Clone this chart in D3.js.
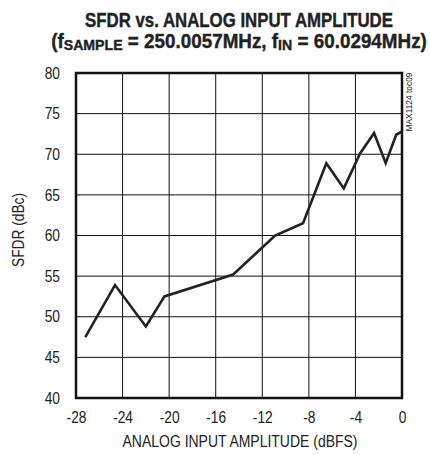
<!DOCTYPE html>
<html>
<head>
<meta charset="utf-8">
<script src="https://cdn.jsdelivr.net/npm/d3@7"></script>
<style>
  body { margin: 0; background: #fff; }
  text { font-family: "Liberation Sans", Arial, sans-serif; fill: #222; }
</style>
</head>
<body>
<div id="chart"></div>
<script>
// data
const amplitude = [-27.2, -24.65, -22.0, -20.4, -14.5, -10.9, -8.5, -6.5, -5.0, -3.6, -2.4, -1.4, -0.5, 0];
const sfdr = [47.5, 53.9, 48.8, 52.5, 55.2, 60.0, 61.5, 68.9, 65.8, 70.1, 72.6, 68.9, 72.4, 72.8];
const xTicks = [-28, -24, -20, -16, -12, -8, -4, 0];
const yTicks = [40, 45, 50, 55, 60, 65, 70, 75, 80];

const margin = { top: 73, right: 28, bottom: 57, left: 76 };
const width = 430 - margin.left - margin.right;
const height = 455 - margin.top - margin.bottom;

const svg = d3.select('#chart')
  .append('svg')
  .attr('width', 430)
  .attr('height', 455);

// no condensed font installed: draw at (0,0) and squeeze with a transform
// to a given width (or by a factor when target < 1)
function placeText(parent, x, y, rotate, target, size, str, bold) {
  const t = parent.append('text')
    .attr('text-anchor', 'middle')
    .style('font-size', size + 'px')
    .style('font-weight', bold ? 'bold' : null)
    .text(str);
  const len = t.node().getComputedTextLength();
  const k = target < 1 ? target : target / len;
  t.attr('transform', 'translate(' + x + ',' + y + ')' + (rotate ? ' rotate(' + rotate + ')' : '') + ' scale(' + k + ',1)');
  return t;
}

// title
placeText(svg, 239, 27, 0, 308, 20, 'SFDR vs. ANALOG INPUT AMPLITUDE', true)
  .style('stroke', '#222').style('stroke-width', 0.4);

const t2 = svg.append('text')
  .attr('text-anchor', 'middle')
  .style('font-weight', 'bold')
  .style('font-size', '20px')
  .style('stroke', '#222').style('stroke-width', 0.4);
t2.append('tspan').text('(f');
t2.append('tspan').attr('dy', 2).style('font-size', '15px').text('SAMPLE');
t2.append('tspan').attr('dy', -2).text(' = 250.0057MHz, f');
t2.append('tspan').attr('dy', 2).style('font-size', '15px').text('IN');
t2.append('tspan').attr('dy', -2).text(' = 60.0294MHz)');
const k2 = 376 / t2.node().getComputedTextLength();
t2.attr('transform', 'translate(239,48) scale(' + k2 + ',1)');

const g = svg.append('g')
  .attr('transform', 'translate(' + margin.left + ',' + margin.top + ')');

const xScale = d3.scaleLinear().domain([-28, 0]).range([0, width]);
const yScale = d3.scaleLinear().domain([40, 80]).range([height, 0]);

// grid
g.selectAll('.vgrid').data(xTicks).enter().append('line')
  .attr('x1', d => xScale(d)).attr('x2', d => xScale(d))
  .attr('y1', 0).attr('y2', height)
  .attr('stroke', '#111').attr('stroke-width', 1);
g.selectAll('.hgrid').data(yTicks).enter().append('line')
  .attr('y1', d => yScale(d)).attr('y2', d => yScale(d))
  .attr('x1', 0).attr('x2', width)
  .attr('stroke', '#111').attr('stroke-width', 1);

// axes (labels only)
const sq = 0.86;
const xAxis = d3.axisBottom(xScale).tickValues(xTicks).tickSize(0).tickPadding(14)
  .tickFormat(d => d < 0 ? '-' + Math.abs(d) : d);
const xAxisGroup = g.append('g').attr('transform', 'translate(0,' + height + ')').call(xAxis);
xAxisGroup.select('.domain').remove();
xAxisGroup.selectAll('text')
  .style('font-size', '16px').style('font-family', null)
  .attr('transform', 'scale(' + sq + ',1)');

const yAxis = d3.axisLeft(yScale).tickValues(yTicks).tickSize(0).tickPadding(16);
const yAxisGroup = g.append('g').call(yAxis);
yAxisGroup.select('.domain').remove();
yAxisGroup.selectAll('text')
  .style('font-size', '16px').style('font-family', null)
  .attr('x', -16 / sq)
  .attr('transform', 'scale(' + sq + ',1)');

// frame
g.append('rect')
  .attr('x', 0).attr('y', 0).attr('width', width).attr('height', height)
  .attr('fill', 'none').attr('stroke', '#111').attr('stroke-width', 2.5);

// data line
const line = d3.line().x((d, i) => xScale(amplitude[i])).y(d => yScale(d));
g.append('path')
  .datum(sfdr)
  .attr('d', line)
  .attr('fill', 'none')
  .attr('stroke', '#222')
  .attr('stroke-width', 2.6)
  .attr('stroke-linejoin', 'miter');

// axis labels
placeText(svg, 240, 447, 0, 235, 16, 'ANALOG INPUT AMPLITUDE (dBFS)');
placeText(svg, 24, 230, -90, 74, 16, 'SFDR (dBc)');

// side tag
placeText(svg, 412, 102, -90, 59, 9, 'MAX1124 toc09');
</script>
</body>
</html>
